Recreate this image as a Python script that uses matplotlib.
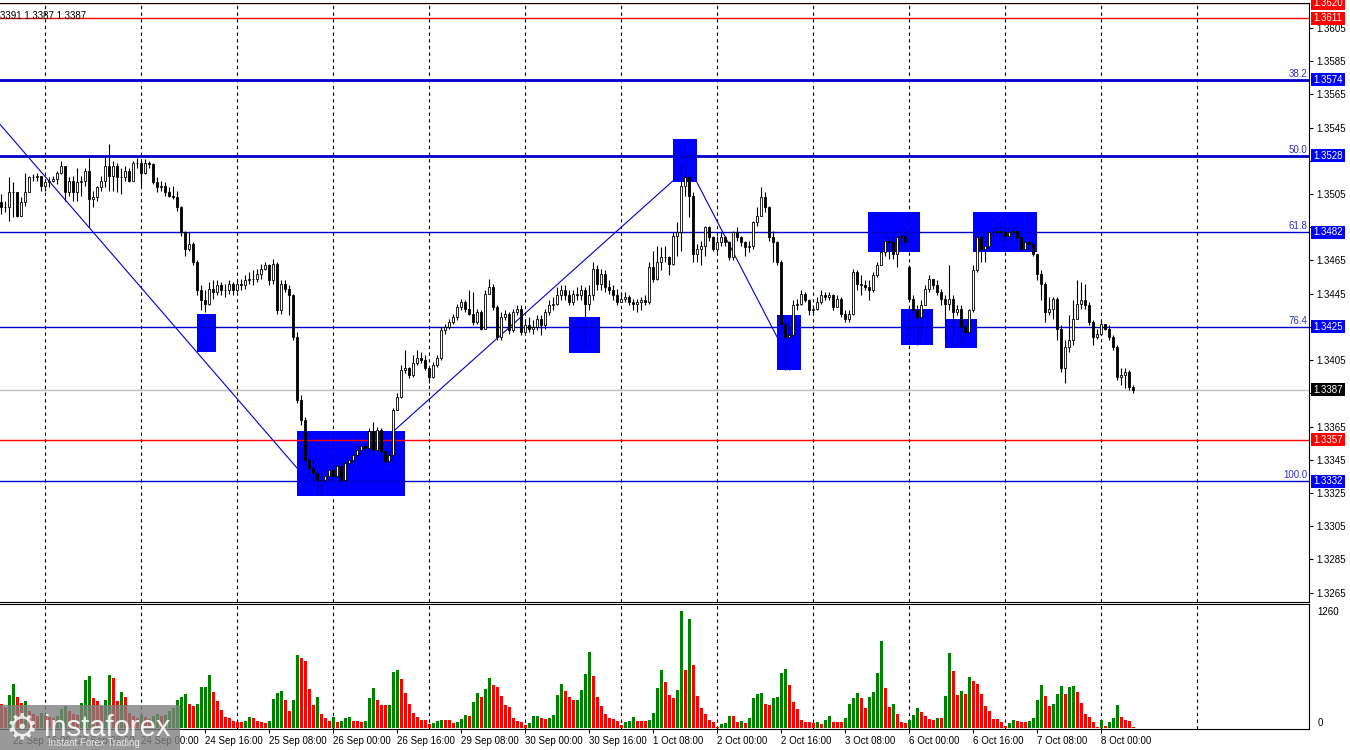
import matplotlib
matplotlib.use("Agg")
import matplotlib.pyplot as plt
import matplotlib.transforms as mtransforms
from matplotlib.patches import Rectangle
import numpy as np

# GBPUSD H1, prices in points (13497 -> 1.3497)
first_open_pts = 13500
gap_opens = {227: 13461}  # weekend gap (6 Oct 00:00)

close_pts = [
    13497, 13497, 13506, 13506, 13492, 13500, 13506, 13515, 13515, 13516,
    13510, 13512, 13513, 13514, 13518, 13522, 13506, 13513, 13506, 13512,
    13513, 13519, 13502, 13503, 13509, 13513, 13522, 13516, 13522, 13515,
    13515, 13519, 13513, 13524, 13524, 13518, 13524, 13523, 13512, 13509,
    13510, 13506, 13504, 13503, 13497, 13482, 13472, 13475, 13464, 13447,
    13441, 13439, 13448, 13446, 13450, 13447, 13447, 13451, 13447, 13451,
    13450, 13453, 13454, 13454, 13457, 13460, 13462, 13453, 13463, 13435,
    13451, 13448, 13444, 13419, 13381, 13369, 13345, 13340, 13337, 13333,
    13333, 13335, 13339, 13335, 13341, 13333, 13343, 13345, 13348, 13351,
    13353, 13352, 13362, 13351, 13363, 13350, 13344, 13348, 13375, 13383,
    13399, 13400, 13396, 13403, 13406, 13405, 13400, 13395, 13402, 13406,
    13423, 13425, 13428, 13431, 13437, 13440, 13436, 13433, 13428, 13434,
    13424, 13445, 13449, 13437, 13419, 13431, 13433, 13423, 13434, 13436,
    13422, 13426, 13424, 13425, 13430, 13426, 13434, 13438, 13439, 13444,
    13447, 13444, 13440, 13445, 13444, 13447, 13439, 13444, 13460, 13451,
    13457, 13449, 13447, 13444, 13440, 13442, 13443, 13440, 13439, 13440,
    13441, 13440, 13461, 13454, 13464, 13467, 13467, 13463, 13480, 13482,
    13510, 13515, 13504, 13469, 13472, 13474, 13485, 13479, 13472, 13476,
    13479, 13476, 13467, 13482, 13479, 13476, 13473, 13474, 13488, 13492,
    13503, 13497, 13479, 13476, 13464, 13427, 13419, 13420, 13438, 13439,
    13445, 13441, 13435, 13436, 13440, 13444, 13443, 13444, 13437, 13442,
    13433, 13430, 13433, 13458, 13451, 13450, 13449, 13447, 13456, 13462,
    13470, 13477, 13476, 13469, 13479, 13480, 13476, 13442, 13435, 13431,
    13438, 13448, 13454, 13450, 13446, 13442, 13439, 13442, 13434, 13436,
    13425, 13422, 13435, 13459, 13479, 13472, 13474, 13482, 13482, 13483,
    13482, 13480, 13482, 13483, 13479, 13472, 13476, 13475, 13469, 13457,
    13451, 13434, 13436, 13442, 13424, 13400, 13413, 13417, 13430, 13439,
    13441, 13438, 13428, 13419, 13421, 13427, 13424, 13419, 13413, 13395,
    13396, 13398, 13389, 13387,
]

high_pts = [
    13505, 13501, 13515, 13512, 13506, 13503, 13518, 13516, 13517, 13518,
    13516, 13513, 13515, 13516, 13519, 13525, 13522, 13515, 13516, 13521,
    13516, 13521, 13527, 13507, 13510, 13516, 13528, 13535, 13525, 13524,
    13521, 13522, 13521, 13525, 13527, 13525, 13526, 13525, 13524, 13515,
    13513, 13512, 13509, 13510, 13507, 13498, 13483, 13482, 13476, 13465,
    13450, 13447, 13452, 13453, 13453, 13452, 13451, 13453, 13452, 13454,
    13454, 13456, 13458, 13459, 13460, 13463, 13464, 13463, 13466, 13464,
    13453, 13453, 13450, 13445, 13422, 13384, 13371, 13348, 13346, 13339,
    13338, 13337, 13341, 13340, 13343, 13342, 13345, 13348, 13350, 13354,
    13355, 13355, 13364, 13368, 13365, 13364, 13351, 13350, 13376, 13385,
    13402, 13411, 13401, 13408, 13411, 13410, 13408, 13401, 13404, 13408,
    13425, 13427, 13430, 13433, 13439, 13442, 13441, 13447, 13446, 13436,
    13435, 13447, 13454, 13451, 13438, 13434, 13435, 13434, 13436, 13438,
    13438, 13430, 13431, 13429, 13432, 13432, 13436, 13441, 13443, 13449,
    13450, 13450, 13447, 13447, 13449, 13450, 13449, 13450, 13464, 13462,
    13460, 13459, 13453, 13450, 13448, 13446, 13446, 13444, 13442, 13442,
    13443, 13444, 13464, 13471, 13474, 13473, 13474, 13468, 13482, 13488,
    13524, 13524, 13516, 13506, 13475, 13477, 13486, 13486, 13480, 13480,
    13482, 13480, 13477, 13483, 13485, 13480, 13477, 13477, 13489, 13497,
    13509, 13506, 13498, 13483, 13477, 13465, 13429, 13426, 13441, 13442,
    13447, 13446, 13442, 13438, 13443, 13447, 13446, 13446, 13445, 13444,
    13443, 13435, 13435, 13460, 13459, 13456, 13453, 13453, 13458, 13464,
    13473, 13482, 13480, 13479, 13482, 13483, 13485, 13462, 13444, 13438,
    13441, 13450, 13456, 13454, 13453, 13448, 13444, 13462, 13444, 13438,
    13438, 13426, 13436, 13462, 13480, 13480, 13477, 13483, 13485, 13488,
    13486, 13485, 13485, 13485, 13483, 13481, 13477, 13477, 13476, 13469,
    13459, 13452, 13443, 13443, 13443, 13426, 13417, 13432, 13441, 13453,
    13452, 13451, 13440, 13429, 13424, 13429, 13427, 13426, 13420, 13414,
    13400, 13400, 13399, 13390,
]

low_pts = [
    13493, 13494, 13489, 13491, 13491, 13492, 13498, 13506, 13513, 13513,
    13507, 13507, 13509, 13512, 13511, 13517, 13501, 13504, 13501, 13501,
    13504, 13510, 13485, 13497, 13501, 13507, 13509, 13507, 13507, 13506,
    13505, 13513, 13512, 13513, 13521, 13510, 13517, 13521, 13511, 13506,
    13507, 13504, 13503, 13502, 13495, 13480, 13468, 13471, 13462, 13444,
    13435, 13434, 13438, 13442, 13444, 13444, 13443, 13445, 13444, 13446,
    13447, 13448, 13451, 13450, 13452, 13454, 13459, 13450, 13451, 13433,
    13433, 13446, 13432, 13417, 13379, 13366, 13342, 13336, 13333, 13324,
    13324, 13330, 13333, 13332, 13334, 13330, 13328, 13339, 13341, 13347,
    13350, 13350, 13351, 13348, 13350, 13348, 13342, 13343, 13346, 13375,
    13382, 13397, 13394, 13395, 13402, 13403, 13399, 13391, 13394, 13401,
    13405, 13421, 13424, 13427, 13429, 13435, 13434, 13432, 13426, 13427,
    13423, 13424, 13445, 13435, 13417, 13417, 13429, 13421, 13422, 13432,
    13420, 13421, 13422, 13421, 13423, 13420, 13424, 13432, 13435, 13438,
    13441, 13441, 13438, 13438, 13441, 13441, 13411, 13435, 13441, 13447,
    13447, 13446, 13445, 13441, 13438, 13440, 13440, 13438, 13435, 13434,
    13435, 13438, 13439, 13452, 13453, 13459, 13464, 13456, 13462, 13468,
    13471, 13504, 13491, 13464, 13464, 13462, 13468, 13477, 13471, 13470,
    13474, 13474, 13465, 13465, 13477, 13474, 13468, 13470, 13472, 13486,
    13492, 13494, 13477, 13464, 13462, 13426, 13399, 13399, 13417, 13435,
    13438, 13440, 13432, 13433, 13435, 13439, 13441, 13441, 13435, 13438,
    13431, 13428, 13428, 13432, 13447, 13444, 13447, 13441, 13446, 13455,
    13462, 13468, 13466, 13466, 13461, 13474, 13471, 13441, 13429, 13414,
    13417, 13438, 13446, 13448, 13444, 13438, 13417, 13435, 13417, 13432,
    13415, 13414, 13420, 13434, 13458, 13464, 13464, 13472, 13480, 13480,
    13477, 13477, 13477, 13480, 13476, 13471, 13471, 13472, 13468, 13453,
    13441, 13428, 13432, 13430, 13417, 13398, 13391, 13410, 13414, 13430,
    13436, 13436, 13426, 13414, 13418, 13420, 13423, 13417, 13411, 13393,
    13390, 13388, 13387, 13385,
]

volume = [
    250, 220, 352, 471, 335, 270, 292, 180, 150, 120,
    160, 140, 110, 100, 130, 200, 230, 180, 150, 140,
    269, 514, 557, 316, 290, 233, 298, 568, 532, 290,
    384, 330, 153, 120, 100, 140, 110, 90, 130, 150,
    120, 140, 180, 210, 298, 335, 362, 254, 233, 254,
    434, 436, 568, 388, 290, 189, 110, 99, 74, 63,
    60, 74, 110, 99, 74, 63, 45, 74, 307, 368,
    397, 298, 182, 298, 785, 755, 719, 416, 243, 326,
    146, 99, 74, 117, 63, 74, 99, 110, 74, 72,
    63, 74, 316, 424, 298, 243, 240, 245, 604, 622,
    521, 370, 254, 153, 110, 81, 80, 38, 52, 74,
    81, 80, 78, 52, 63, 92, 135, 124, 279, 376,
    333, 412, 539, 460, 441, 344, 243, 218, 106, 70,
    63, 27, 45, 128, 130, 106, 95, 108, 135, 351,
    470, 398, 333, 297, 300, 405, 579, 821, 557, 333,
    233, 142, 106, 88, 70, 27, 60, 74, 110, 70,
    68, 67, 81, 153, 423, 622, 496, 351, 316, 405,
    1260, 622, 1174, 676, 340, 207, 142, 81, 56, 9,
    38, 52, 124, 122, 59, 70, 52, 99, 316, 362,
    369, 254, 243, 322, 326, 586, 633, 460, 279, 200,
    81, 56, 55, 54, 58, 40, 80, 124, 60, 58,
    57, 100, 250, 320, 369, 316, 207, 333, 380, 592,
    940, 423, 225, 254, 150, 63, 52, 81, 135, 207,
    164, 124, 92, 81, 103, 102, 337, 811, 614, 351,
    394, 362, 546, 503, 474, 362, 233, 178, 92, 90,
    56, 16, 45, 81, 70, 60, 59, 70, 99, 298,
    457, 340, 233, 254, 362, 449, 362, 438, 449, 384,
    268, 142, 114, 56, 9, 81, 20, 60, 103, 243,
    117, 81, 70, 5,
]

# time axis (bar index of each label / day separator)
day_bars = [11, 35, 59, 83, 107, 131, 155, 179, 203, 227, 251, 275, 299]
label_bars = [3, 19, 35, 51, 67, 83, 99, 115, 131, 147, 163, 179, 195, 211, 227, 243, 259, 275]
label_text = ["22 Sep 16:00", "23 Sep 08:00", "24 Sep 00:00", "24 Sep 16:00",
              "25 Sep 08:00", "26 Sep 00:00", "26 Sep 16:00", "29 Sep 08:00",
              "30 Sep 00:00", "30 Sep 16:00", "1 Oct 08:00", "2 Oct 00:00",
              "2 Oct 16:00", "3 Oct 08:00", "6 Oct 00:00", "6 Oct 16:00",
              "7 Oct 08:00", "8 Oct 00:00"]

# horizontal levels
level_price = [1.3620, 1.3611, 1.3574, 1.3528, 1.3482, 1.3425, 1.3387, 1.3357, 1.3332]
level_color = ["#ff0000", "#ff0000", "#0000cc", "#0000cc", "#0000cc", "#0000cc", "#c0c0c0", "#ff0000", "#0000cc"]
level_tag = ["#ff0000", "#ff0000", "#0000ff", "#0000ff", "#0000ff", "#0000ff", "#000000", "#ff0000", "#0000ff"]
level_width = [1, 1, 2, 2, 1, 1, 1, 1, 1]
fib_text = ["38.2", "50.0", "61.8", "76.4", "100.0"]
fib_price = [1.3574, 1.3528, 1.3482, 1.3425, 1.3332]
hidden_ticks = [1.3525, 1.3485, 1.3425, 1.3385]  # covered by the level tags

# blue zones: (bar from, bar to, price low, price high)
zones = [
    (49.0, 53.75, 1.3410, 1.3433),
    (74.0, 101.0, 1.3323, 1.3362),
    (142.0, 149.75, 1.3409, 1.3431),
    (168.0, 174.0, 1.3512, 1.3538),
    (194.0, 200.0, 1.3399, 1.3432),
    (216.75, 229.75, 1.3470, 1.3494),
    (225.0, 233.0, 1.3414, 1.3436),
    (236.0, 244.0, 1.3412, 1.3430),
    (243.0, 259.0, 1.3470, 1.3494),
]
# zigzag trend lines: ((bar, price), (bar, price))
trends = [
    ((-0.25, 1.3547), (74.0, 1.3340)),
    ((98.5, 1.3363), (168.0, 1.3513)),
    ((174.0, 1.3512), (194.0, 1.3419)),
]

plt.rcParams["font.family"] = ["Liberation Sans", "DejaVu Sans"]

c = np.array(close_pts) / 1e4
o = np.r_[first_open_pts, close_pts[:-1]] / 1e4
for k, v in gap_opens.items():
    o[k] = v / 1e4
h = np.maximum(np.array(high_pts) / 1e4, np.maximum(o, c))
l = np.minimum(np.array(low_pts) / 1e4, np.minimum(o, c))
vol = np.array(volume)
x = np.arange(len(c))

W, H = 1350, 750
fig = plt.figure(figsize=(W / 100, H / 100), dpi=100)


def px_axes(x0, y0, x1, y1):
    return fig.add_axes([x0 / W, 1 - y1 / H, (x1 - x0) / W, (y1 - y0) / H])


ax = px_axes(0, 2.5, 1309, 601.5)
axv = px_axes(0, 604, 1309, 729)
xlim = (-0.25, 327.0)
ylim = (1.32596, 1.36204)
px_per_price = (601.5 - 2.5) / (ylim[1] - ylim[0])

# --- price panel
for z in zones:
    ax.add_patch(Rectangle((z[0], z[2]), z[1] - z[0], z[3] - z[2],
                           facecolor="#0000ff", edgecolor="none", zorder=1))
for b in day_bars:
    ax.axvline(b, color="black", lw=0.8, ls=(0, (3, 3)), zorder=1.5)
for p, col, lw in zip(level_price, level_color, level_width):
    ax.axhline(p, color=col, lw=lw, zorder=2)
for (b0, p0), (b1, p1) in trends:
    ax.plot([b0, b1], [p0, p1], color="#0000cc", lw=0.8, zorder=2)

ax.vlines(x, l, h, color="black", lw=0.8, zorder=3)
up = c >= o
ax.bar(x, np.maximum(np.abs(c - o), 1e-6), bottom=np.minimum(o, c), width=0.62,
       color=np.where(up, "white", "black"), edgecolor="black", linewidth=0.6, zorder=4)

ax.set_xlim(*xlim)
ax.set_ylim(*ylim)
ax.set_xticks([])
ax.yaxis.tick_right()
yt = np.arange(13265, 13606, 20) / 1e4
ax.set_yticks(yt)
ax.set_yticklabels(["" if any(abs(v - t) < 1e-6 for t in hidden_ticks) else f"{v:.4f}"
                    for v in yt])
ax.tick_params(axis="y", length=3, width=0.8, labelsize=7, pad=2)
ax.spines["left"].set_visible(False)
for s in ("top", "bottom", "right"):
    ax.spines[s].set_linewidth(0.8)

trans = mtransforms.blended_transform_factory(ax.transAxes, ax.transData)
tag_x0, tag_x1 = 1311 / 1309, 1345 / 1309
tag_h = 13 / px_per_price
for p, col in zip(level_price, level_tag):
    ax.add_patch(Rectangle((tag_x0, p - tag_h / 2), tag_x1 - tag_x0, tag_h,
                           transform=trans, facecolor=col, edgecolor="none",
                           clip_on=False, zorder=9))
    ax.text((tag_x0 + tag_x1) / 2, p, f"{p:.4f}", transform=trans, color="white",
            fontsize=7, va="center", ha="center", clip_on=False, zorder=10)
for t, p in zip(fib_text, fib_price):
    ax.text(0.9985, p + 0.00006, t, transform=trans, color="#3030c0", fontsize=7,
            va="bottom", ha="right", zorder=6)

ax.text(0.0, 0.985, "3391 1.3387 1.3387", transform=ax.transAxes, fontsize=7,
        va="top", ha="left", zorder=6)

# --- volume panel
prev = np.r_[np.inf, vol[:-1]]
vcol = np.where(vol > prev, "#008000", "#ff0000")
for b in day_bars:
    axv.axvline(b, color="black", lw=0.8, ls=(0, (3, 3)), zorder=1)
axv.bar(x, vol, width=0.75, color=vcol, zorder=2)
axv.set_xlim(*xlim)
axv.set_ylim(-16, 1336)
axv.yaxis.tick_right()
axv.set_yticks([0, 1260])
axv.set_yticklabels(["0", "1260"])
axv.tick_params(axis="y", length=0, labelsize=7, pad=6)
axv.get_yticklabels()[0].set_va("bottom")
axv.set_xticks(label_bars)
axv.set_xticklabels(label_text, ha="left")
axv.tick_params(axis="x", length=3, width=0.8, labelsize=7, pad=2)
axv.spines["left"].set_visible(False)
for s in ("top", "bottom", "right"):
    axv.spines[s].set_linewidth(0.8)

# --- watermark
fig.patches.append(Rectangle((0, 0), 180 / W, 45 / H, transform=fig.transFigure,
                             facecolor="#808080", alpha=0.8, edgecolor="none", zorder=20))
fig.text(22 / W, 22 / H, "\u2699", fontsize=26, color="white", alpha=0.85,
         ha="center", va="center", family="DejaVu Sans", zorder=21)
fig.text(44 / W, 14 / H, "instaforex", fontsize=21, color="white", alpha=0.9,
         ha="left", va="baseline", zorder=21)
fig.text(48 / W, 4 / H, "Instant Forex Trading", fontsize=7, color="#e8e8e8",
         ha="left", va="baseline", zorder=21)

fig.savefig("out.png", dpi=100)
